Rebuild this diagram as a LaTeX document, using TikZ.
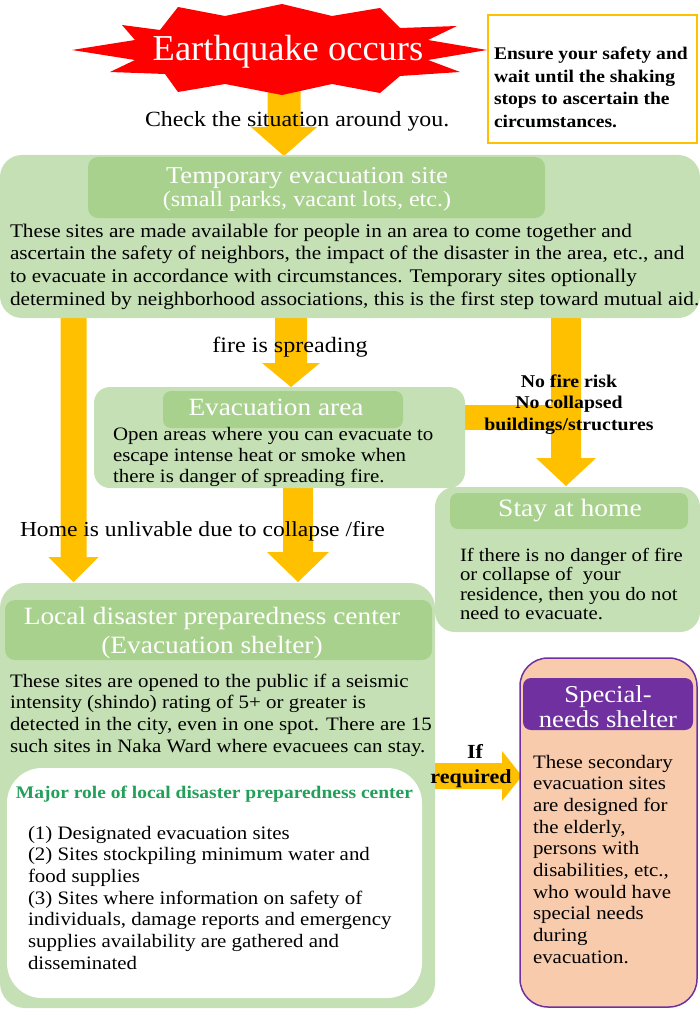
\documentclass[tikz,border=0pt]{standalone}
\usepackage{fontspec}
\setmainfont{Liberation Serif}[FakeStretch=1.1]
\newfontfamily\plainrm{Liberation Serif}
\usetikzlibrary{calc}
\definecolor{lgreen}{HTML}{C5E0B4}
\definecolor{dgreen}{HTML}{A9D18E}
\definecolor{gold}{HTML}{FFC000}
\definecolor{purp}{HTML}{7030A0}
\definecolor{peach}{HTML}{F8CBAD}
\definecolor{rolegreen}{HTML}{22A05A}
\definecolor{eqred}{HTML}{FF0000}
\newcommand{\fs}[2]{\fontsize{#1pt}{#2pt}\selectfont}
\newcommand{\ml}[1]{\begin{tabular}[t]{@{}l@{}}#1\end{tabular}}
\newcommand{\mc}[1]{\begin{tabular}[t]{@{}c@{}}#1\end{tabular}}
\newcommand{\vblock}[5]{\fill[gold] let \p1=(#1), \p2=(#2) in (\x1-#3pt,\y1) -- (\x1+#3pt,\y1) -- (\x1+#3pt,\y2+#5pt) -- (\x1+#4pt,\y2+#5pt) -- (\x1,\y2) -- (\x1-#4pt,\y2+#5pt) -- (\x1-#3pt,\y2+#5pt) -- cycle;}
\newcommand{\hblock}[5]{\fill[gold] let \p1=(#1), \p2=(#2) in (\x1,\y1+#3pt) -- (\x2-#5pt,\y1+#3pt) -- (\x2-#5pt,\y1+#4pt) -- (\x2,\y1) -- (\x2-#5pt,\y1-#4pt) -- (\x2-#5pt,\y1-#3pt) -- (\x1,\y1-#3pt) -- cycle;}
\begin{document}
\begin{tikzpicture}[x=1pt,y=-1pt,
  box/.style={rectangle,anchor=north west,inner sep=0pt,outer sep=0pt},
  gbox/.style={box,fill=lgreen},
  hbox/.style={box,fill=dgreen},
  tx/.style={inner sep=0pt,outer sep=0pt},
  wt/.style={tx,text=white}]
\useasboundingbox (0,0) rectangle (700,1011);

% ---------- arrows (drawn first, under the boxes)
\coordinate (a1s) at (284,80);   \coordinate (a1t) at (284,156);
\vblock{a1s}{a1t}{16.5}{33}{29}
\coordinate (a2s) at (73.5,310); \coordinate (a2t) at (73.5,582);
\vblock{a2s}{a2t}{13}{25}{25}
\coordinate (a3s) at (291,310);  \coordinate (a3t) at (291,387);
\vblock{a3s}{a3t}{16}{29}{24}
\coordinate (a4s) at (298,480);  \coordinate (a4t) at (298,582);
\vblock{a4s}{a4t}{15}{31}{30}
\coordinate (a5s) at (566,310);  \coordinate (a5t) at (566,486);
\vblock{a5s}{a5t}{15}{30}{28}
\coordinate (bar1) at (455,417.5); \coordinate (bar2) at (566,417.5);
\draw[gold,line width=25pt] (bar1) -- (bar2);
\coordinate (a6s) at (430,776);  \coordinate (a6t) at (522,776);
\hblock{a6s}{a6t}{13}{25}{20}

% ---------- boxes
\node[gbox, minimum width=700pt, minimum height=163pt, rounded corners=22pt] (temp) at (0,155) {};
\node[hbox, minimum width=457pt, minimum height=61pt, rounded corners=10pt] (temphead) at (88,157) {};
\node[gbox, minimum width=371pt, minimum height=101pt, rounded corners=16pt] (evac) at (94,387) {};
\node[hbox, minimum width=240pt, minimum height=37pt, rounded corners=8pt] (evachead) at (163,391) {};
\node[gbox, minimum width=265pt, minimum height=145pt, rounded corners=20pt] (stay) at (435,487) {};
\node[hbox, minimum width=238pt, minimum height=36pt, rounded corners=8pt] (stayhead) at (450,493) {};
\node[gbox, minimum width=435pt, minimum height=425pt, rounded corners=25pt] (local) at (0,583) {};
\node[hbox, minimum width=427pt, minimum height=60pt, rounded corners=10pt] (localhead) at (5,600) {};
\node[box, fill=white, minimum width=415pt, minimum height=230pt, rounded corners=35pt] (role) at (7,768) {};
\node[box, fill=peach, draw=purp, line width=1.5pt, minimum width=177pt, minimum height=349pt, rounded corners=28pt] (special) at (520,658) {};
\node[box, fill=purp, minimum width=170pt, minimum height=52pt, rounded corners=8pt] (spechead) at (523,678) {};
\node[box, fill=white, draw=gold, line width=1.5pt, minimum width=209pt, minimum height=128pt] (safety) at (488,15) {};

% ---------- star
\fill[eqred] (72,50) -- (135,40) -- (122,25) -- (160,30) -- (178,7) -- (225,16) -- (282,4) -- (332,16) -- (380,8) -- (400,28) -- (457,26) -- (428,40) -- (487,50) -- (428,60) -- (460,72) -- (400,76) -- (380,93) -- (332,84) -- (282,95) -- (225,84) -- (178,92) -- (165,74) -- (110,72) -- (135,60) -- cycle;

% ---------- texts
\node[tx, anchor=base, text=white, font=\plainrm\fs{36.5}{40}] (eq) at (288,61) {Earthquake occurs};
\node[tx, anchor=base west, font=\bfseries\fs{17.8}{22.5}] (safetytext) at (494,60) {\ml{Ensure your safety and\\wait until the shaking\\stops to ascertain the\\circumstances.}};
\node[tx, anchor=base west, font=\fs{21.7}{24}] (check) at (145,127) {Check the situation around you.};
\node[wt, anchor=base, font=\fs{24.2}{26}] (temptitle) at (307,183) {Temporary evacuation site};
\node[wt, anchor=base, font=\fs{21.9}{24}] (tempsub) at (307,207) {(small parks, vacant lots, etc.)};
\node[tx, anchor=base west, font=\fs{19.3}{22.8}] (temptext) at (10,237) {\ml{These sites are made available for people in an area to come together and\\ascertain the safety of neighbors, the impact of the disaster in the area, etc., and\\to evacuate in accordance with circumstances. Temporary sites optionally\\determined by neighborhood associations, this is the first step toward mutual aid.}};
\node[tx, anchor=base, font=\fs{21.9}{24}] (fire) at (290,352) {fire is spreading};
\node[wt, anchor=base, font=\fs{24.8}{26}] (evactitle) at (276,415) {Evacuation area};
\node[tx, anchor=base west, font=\fs{19}{21}] (evactext) at (113,440) {\ml{Open areas where you can evacuate to\\escape intense heat or smoke when\\there is danger of spreading fire.}};
\node[tx, anchor=base, font=\bfseries\fs{18}{21.5}] (nofire) at (569,387) {\mc{No fire risk\\No collapsed\\buildings/structures}};
\node[tx, anchor=base west, font=\fs{21.4}{24}] (home) at (20,536) {Home is unlivable due to collapse /fire};
\node[wt, anchor=base, font=\fs{25}{27}] (staytitle) at (570,516) {Stay at home};
\node[tx, anchor=base west, font=\fs{18.8}{19.6}] (staytext) at (460,561) {\ml{If there is no danger of fire\\or collapse of\ \ your\\residence, then you do not\\need to evacuate.}};
\node[wt, anchor=base, font=\fs{24.9}{27}] (localtitle) at (212,624) {Local disaster preparedness center};
\node[wt, anchor=base, font=\fs{24.9}{27}] (localsub) at (212,653) {(Evacuation shelter)};
\node[tx, anchor=base west, font=\fs{19}{21.7}] (localtext) at (10,687) {\ml{These sites are opened to the public if a seismic\\intensity (shindo) rating of 5+ or greater is\\detected in the city, even in one spot. There are 15\\such sites in Naka Ward where evacuees can stay.}};
\node[tx, anchor=base west, text=rolegreen, font=\bfseries\fs{17.7}{20}] (roletitle) at (16,798) {Major role of local disaster preparedness center};
\node[tx, anchor=base west, font=\fs{19}{21.67}] (rolelist) at (28,839) {\ml{(1) Designated evacuation sites\\(2) Sites stockpiling minimum water and\\food supplies\\(3) Sites where information on safety of\\individuals, damage reports and emergency\\supplies availability are gathered and\\disseminated}};
\node[tx, anchor=base, font=\bfseries\fs{20}{25}] (iftext) at (475,758) {If};
\node[tx, anchor=base, font=\bfseries\fs{20}{25}] (reqtext) at (471,783) {required};
\node[wt, anchor=base, font=\fs{24.2}{25.7}] (spectitle) at (608,702) {\mc{Special-\\needs shelter}};
\node[tx, anchor=base west, font=\fs{19}{21.67}] (spectext) at (533,768) {\ml{These secondary\\evacuation sites\\are designed for\\the elderly,\\persons with\\disabilities, etc.,\\who would have\\special needs\\during\\evacuation.}};
\end{tikzpicture}
\end{document}
